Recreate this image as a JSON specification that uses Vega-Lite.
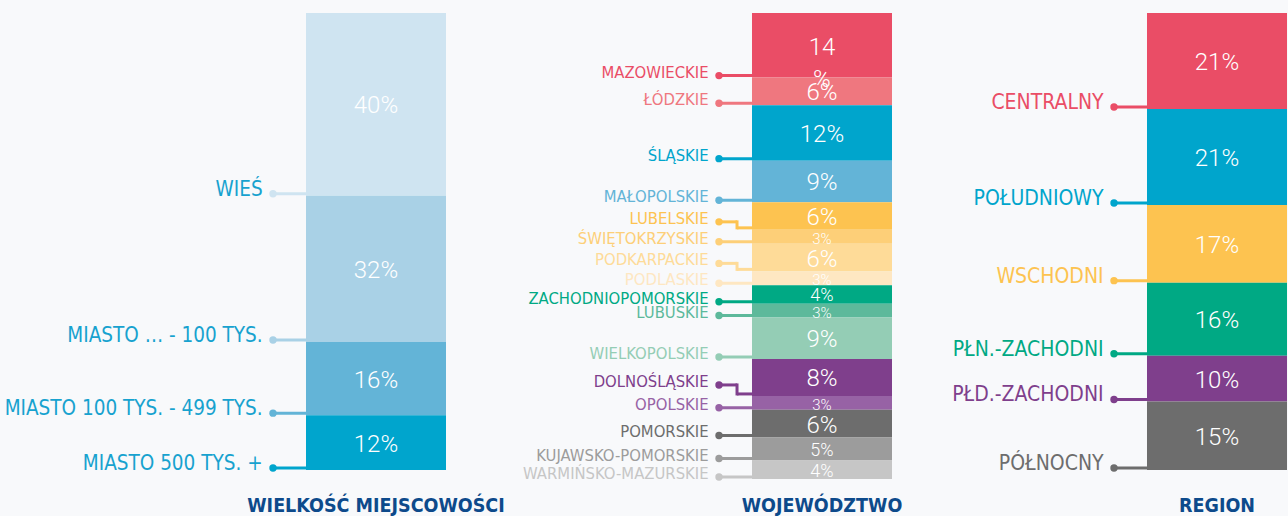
{
  "$schema": "https://vega.github.io/schema/vega-lite/v6.json",
  "background": "#f8f9fb",
  "padding": {"left": 0, "top": 13, "right": 1, "bottom": 0},
  "autosize": {"type": "pad"},
  "bounds": "flush",
  "spacing": 0,
  "config": {"view": {"stroke": null}},
  "resolve": {"scale": {"x": "independent", "y": "independent", "color": "independent", "size": "independent"}},
  "data": {"values": [
    {"chart": "size", "cat": "WIEŚ", "value": 40},
    {"chart": "size", "cat": "MIASTO … - 100 TYS.", "value": 32},
    {"chart": "size", "cat": "MIASTO 100 TYS. - 499 TYS.", "value": 16},
    {"chart": "size", "cat": "MIASTO 500 TYS. +", "value": 12},
    {"chart": "woj", "cat": "MAZOWIECKIE", "value": 14},
    {"chart": "woj", "cat": "ŁÓDZKIE", "value": 6},
    {"chart": "woj", "cat": "ŚLĄSKIE", "value": 12},
    {"chart": "woj", "cat": "MAŁOPOLSKIE", "value": 9},
    {"chart": "woj", "cat": "LUBELSKIE", "value": 6},
    {"chart": "woj", "cat": "ŚWIĘTOKRZYSKIE", "value": 3},
    {"chart": "woj", "cat": "PODKARPACKIE", "value": 6},
    {"chart": "woj", "cat": "PODLASKIE", "value": 3},
    {"chart": "woj", "cat": "ZACHODNIOPOMORSKIE", "value": 4},
    {"chart": "woj", "cat": "LUBUSKIE", "value": 3},
    {"chart": "woj", "cat": "WIELKOPOLSKIE", "value": 9},
    {"chart": "woj", "cat": "DOLNOŚLĄSKIE", "value": 8},
    {"chart": "woj", "cat": "OPOLSKIE", "value": 3},
    {"chart": "woj", "cat": "POMORSKIE", "value": 6},
    {"chart": "woj", "cat": "KUJAWSKO-POMORSKIE", "value": 5},
    {"chart": "woj", "cat": "WARMIŃSKO-MAZURSKIE", "value": 4},
    {"chart": "region", "cat": "CENTRALNY", "value": 21},
    {"chart": "region", "cat": "POŁUDNIOWY", "value": 21},
    {"chart": "region", "cat": "WSCHODNI", "value": 17},
    {"chart": "region", "cat": "PŁN.-ZACHODNI", "value": 16},
    {"chart": "region", "cat": "PŁD.-ZACHODNI", "value": 10},
    {"chart": "region", "cat": "PÓŁNOCNY", "value": 15}
  ]},
  "hconcat": [
    {
      "width": 446, "height": 457,
      "transform": [
        {"filter": "datum.chart === 'size'"},
        {"window": [{"op": "row_number", "as": "idx"}]},
        {"stack": "value", "groupby": [], "sort": [{"field": "idx", "order": "ascending"}], "as": ["y0", "y1"]},
        {"calculate": "(datum.y0 + datum.y1) / 2", "as": "ymid"},
        {"calculate": "datum.value + '%'", "as": "pct"}
      ],
      "layer": [
        {
          "mark": {"type": "rect"},
          "encoding": {
            "x": {"datum": 0, "type": "quantitative", "scale": {"domain": [-2.1857, 1], "nice": false, "zero": false}, "axis": null},
            "x2": {"datum": 1},
            "y": {"field": "y0", "type": "quantitative", "scale": {"domain": [0, 100], "reverse": true, "nice": false, "zero": false}, "axis": null},
            "y2": {"field": "y1"},
            "color": {"field": "cat", "type": "nominal", "legend": null, "scale": {
              "domain": ["WIEŚ","MIASTO … - 100 TYS.","MIASTO 100 TYS. - 499 TYS.","MIASTO 500 TYS. +","MAZOWIECKIE","ŁÓDZKIE","ŚLĄSKIE","MAŁOPOLSKIE","LUBELSKIE","ŚWIĘTOKRZYSKIE","PODKARPACKIE","PODLASKIE","ZACHODNIOPOMORSKIE","LUBUSKIE","WIELKOPOLSKIE","DOLNOŚLĄSKIE","OPOLSKIE","POMORSKIE","KUJAWSKO-POMORSKIE","WARMIŃSKO-MAZURSKIE","CENTRALNY","POŁUDNIOWY","WSCHODNI","PŁN.-ZACHODNI","PŁD.-ZACHODNI","PÓŁNOCNY"],
              "range": ["#cfe4f1","#a9d1e6","#63b4d7","#00a5cd","#ea4d66","#ef777f","#00a5cc","#63b4d7","#fdc350","#fdcf78","#fedb98","#fee7c2","#00a984","#5db99b","#94cdb5","#7f3f8c","#9762a5","#6d6d6d","#9c9c9c","#c6c6c6","#ea4d66","#00a5cc","#fdc350","#00a984","#7f3f8c","#6d6d6d"]}}
          }
        },
        {
          "mark": {"type": "text", "font": "Roboto", "fontWeight": 300, "color": "white", "align": "center", "baseline": "middle", "yOffset": 2},
          "encoding": {
            "x": {"datum": 0.5},
            "y": {"field": "ymid", "type": "quantitative"},
            "text": {"field": "pct"},
            "size": {"field": "value", "type": "quantitative", "legend": null, "scale": {"type": "threshold", "domain": [4, 6], "range": [16, 19, 24]}}
          }
        },
        {
          "mark": {"type": "rule", "strokeWidth": 3, "yOffset": -2},
          "encoding": {
            "x": {"datum": -0.2357}, "x2": {"datum": 0},
            "y": {"field": "y1", "type": "quantitative"},
            "color": {"field": "cat", "type": "nominal", "legend": null}
          }
        },
        {
          "mark": {"type": "point", "filled": true, "opacity": 1, "size": 55, "yOffset": -2},
          "encoding": {
            "x": {"datum": -0.2357},
            "y": {"field": "y1", "type": "quantitative"},
            "color": {"field": "cat", "type": "nominal", "legend": null}
          }
        },
        {
          "mark": {"type": "text", "font": "DejaVu Sans Condensed", "fontSize": 20.5, "color": "#17a2cf", "align": "right", "baseline": "alphabetic"},
          "encoding": {
            "x": {"datum": -0.31},
            "y": {"field": "y1", "type": "quantitative"},
            "text": {"field": "cat"}
          }
        },
        {
          "transform": [{"filter": "datum.idx === 1"}],
          "mark": {"type": "text", "font": "DejaVu Sans Condensed", "fontSize": 19.5, "fontWeight": "bold", "color": "#0d4a8b", "align": "center", "baseline": "alphabetic"},
          "encoding": {
            "x": {"datum": 0.5},
            "y": {"datum": 109.2},
            "text": {"value": "WIELKOŚĆ MIEJSCOWOŚCI"}
          }
        }
      ]
    },
    {
      "width": 446, "height": 466,
      "transform": [
        {"filter": "datum.chart === 'woj'"},
        {"window": [{"op": "row_number", "as": "idx"}]},
        {"stack": "value", "groupby": [], "sort": [{"field": "idx", "order": "ascending"}], "as": ["y0", "y1"]},
        {"calculate": "(datum.y0 + datum.y1) / 2", "as": "ymid"},
        {"calculate": "datum.value + '%'", "as": "pct"}
      ],
      "layer": [
        {
          "mark": {"type": "rect"},
          "encoding": {
            "x": {"datum": 0, "type": "quantitative", "scale": {"domain": [-2.1857, 1], "nice": false, "zero": false}, "axis": null},
            "x2": {"datum": 1},
            "y": {"field": "y0", "type": "quantitative", "scale": {"domain": [0, 101], "reverse": true, "nice": false, "zero": false}, "axis": null},
            "y2": {"field": "y1"},
            "color": {"field": "cat", "type": "nominal", "legend": null, "scale": {
              "domain": ["WIEŚ","MIASTO … - 100 TYS.","MIASTO 100 TYS. - 499 TYS.","MIASTO 500 TYS. +","MAZOWIECKIE","ŁÓDZKIE","ŚLĄSKIE","MAŁOPOLSKIE","LUBELSKIE","ŚWIĘTOKRZYSKIE","PODKARPACKIE","PODLASKIE","ZACHODNIOPOMORSKIE","LUBUSKIE","WIELKOPOLSKIE","DOLNOŚLĄSKIE","OPOLSKIE","POMORSKIE","KUJAWSKO-POMORSKIE","WARMIŃSKO-MAZURSKIE","CENTRALNY","POŁUDNIOWY","WSCHODNI","PŁN.-ZACHODNI","PŁD.-ZACHODNI","PÓŁNOCNY"],
              "range": ["#cfe4f1","#a9d1e6","#63b4d7","#00a5cd","#ea4d66","#ef777f","#00a5cc","#63b4d7","#fdc350","#fdcf78","#fedb98","#fee7c2","#00a984","#5db99b","#94cdb5","#7f3f8c","#9762a5","#6d6d6d","#9c9c9c","#c6c6c6","#ea4d66","#00a5cc","#fdc350","#00a984","#7f3f8c","#6d6d6d"]}}
          }
        },
        {
          "transform": [{"filter": "datum.cat !== 'MAZOWIECKIE'"}],
          "mark": {"type": "text", "font": "Roboto", "fontWeight": 300, "color": "white", "align": "center", "baseline": "middle", "yOffset": 2},
          "encoding": {
            "x": {"datum": 0.5},
            "y": {"field": "ymid", "type": "quantitative"},
            "text": {"field": "pct"},
            "size": {"field": "value", "type": "quantitative", "legend": null, "scale": {"type": "threshold", "domain": [4, 6], "range": [15, 18, 24]}}
          }
        },
        {
          "transform": [{"filter": "datum.cat === 'MAZOWIECKIE'"}, {"calculate": "datum.value + '\\n%'", "as": "pct2"}],
          "mark": {"type": "text", "font": "Roboto", "fontWeight": 300, "fontSize": 24, "lineBreak": "\n", "lineHeight": 32, "color": "white", "align": "center", "baseline": "top", "yOffset": -9},
          "encoding": {
            "x": {"datum": 0.5},
            "y": {"field": "ymid", "type": "quantitative"},
            "text": {"field": "pct2"}
          }
        },
        {
          "transform": [{"filter": "indexof(['LUBELSKIE','PODKARPACKIE','DOLNOŚLĄSKIE'], datum.cat) < 0"}],
          "mark": {"type": "rule", "strokeWidth": 3, "yOffset": -2},
          "encoding": {
            "x": {"datum": -0.2357}, "x2": {"datum": 0},
            "y": {"field": "y1", "type": "quantitative"},
            "color": {"field": "cat", "type": "nominal", "legend": null}
          }
        },
        {
          "transform": [{"filter": "indexof(['LUBELSKIE','PODKARPACKIE','DOLNOŚLĄSKIE'], datum.cat) < 0"}],
          "mark": {"type": "point", "filled": true, "opacity": 1, "size": 55, "yOffset": -2},
          "encoding": {
            "x": {"datum": -0.2357},
            "y": {"field": "y1", "type": "quantitative"},
            "color": {"field": "cat", "type": "nominal", "legend": null}
          }
        },
        {
          "transform": [{"filter": "indexof(['LUBELSKIE','PODKARPACKIE','DOLNOŚLĄSKIE'], datum.cat) < 0"}],
          "mark": {"type": "text", "font": "DejaVu Sans Condensed", "fontSize": 16.5, "align": "right", "baseline": "alphabetic"},
          "encoding": {
            "x": {"datum": -0.31},
            "y": {"field": "y1", "type": "quantitative"},
            "text": {"field": "cat"},
            "color": {"field": "cat", "type": "nominal", "legend": null}
          }
        },
        {
          "transform": [{"filter": "indexof(['LUBELSKIE','PODKARPACKIE','DOLNOŚLĄSKIE'], datum.cat) >= 0"}],
          "mark": {"type": "rule", "strokeWidth": 3, "yOffset": -2},
          "encoding": {
            "x": {"datum": -0.107}, "x2": {"datum": 0},
            "y": {"field": "y1", "type": "quantitative"},
            "color": {"field": "cat", "type": "nominal", "legend": null}
          }
        },
        {
          "transform": [{"filter": "datum.cat === 'LUBELSKIE' || datum.cat === 'PODKARPACKIE'"}],
          "mark": {"type": "rule", "strokeWidth": 3, "yOffset": -8},
          "encoding": {
            "x": {"datum": -0.2357}, "x2": {"datum": -0.107},
            "y": {"field": "y1", "type": "quantitative"},
            "color": {"field": "cat", "type": "nominal", "legend": null}
          }
        },
        {
          "transform": [{"filter": "datum.cat === 'LUBELSKIE' || datum.cat === 'PODKARPACKIE'"}],
          "mark": {"type": "rule", "strokeWidth": 3, "strokeCap": "square", "yOffset": -8, "y2Offset": -2},
          "encoding": {
            "x": {"datum": -0.107},
            "y": {"field": "y1", "type": "quantitative"}, "y2": {"field": "y1"},
            "color": {"field": "cat", "type": "nominal", "legend": null}
          }
        },
        {
          "transform": [{"filter": "datum.cat === 'LUBELSKIE' || datum.cat === 'PODKARPACKIE'"}],
          "mark": {"type": "point", "filled": true, "opacity": 1, "size": 55, "yOffset": -8},
          "encoding": {
            "x": {"datum": -0.2357},
            "y": {"field": "y1", "type": "quantitative"},
            "color": {"field": "cat", "type": "nominal", "legend": null}
          }
        },
        {
          "transform": [{"filter": "datum.cat === 'LUBELSKIE' || datum.cat === 'PODKARPACKIE'"}],
          "mark": {"type": "text", "font": "DejaVu Sans Condensed", "fontSize": 16.5, "align": "right", "baseline": "alphabetic", "yOffset": -6},
          "encoding": {
            "x": {"datum": -0.31},
            "y": {"field": "y1", "type": "quantitative"},
            "text": {"field": "cat"},
            "color": {"field": "cat", "type": "nominal", "legend": null}
          }
        },
        {
          "transform": [{"filter": "datum.cat === 'DOLNOŚLĄSKIE'"}],
          "mark": {"type": "rule", "strokeWidth": 3, "yOffset": -11},
          "encoding": {
            "x": {"datum": -0.2357}, "x2": {"datum": -0.107},
            "y": {"field": "y1", "type": "quantitative"},
            "color": {"field": "cat", "type": "nominal", "legend": null}
          }
        },
        {
          "transform": [{"filter": "datum.cat === 'DOLNOŚLĄSKIE'"}],
          "mark": {"type": "rule", "strokeWidth": 3, "strokeCap": "square", "yOffset": -11, "y2Offset": -2},
          "encoding": {
            "x": {"datum": -0.107},
            "y": {"field": "y1", "type": "quantitative"}, "y2": {"field": "y1"},
            "color": {"field": "cat", "type": "nominal", "legend": null}
          }
        },
        {
          "transform": [{"filter": "datum.cat === 'DOLNOŚLĄSKIE'"}],
          "mark": {"type": "point", "filled": true, "opacity": 1, "size": 55, "yOffset": -11},
          "encoding": {
            "x": {"datum": -0.2357},
            "y": {"field": "y1", "type": "quantitative"},
            "color": {"field": "cat", "type": "nominal", "legend": null}
          }
        },
        {
          "transform": [{"filter": "datum.cat === 'DOLNOŚLĄSKIE'"}],
          "mark": {"type": "text", "font": "DejaVu Sans Condensed", "fontSize": 16.5, "align": "right", "baseline": "alphabetic", "yOffset": -9},
          "encoding": {
            "x": {"datum": -0.31},
            "y": {"field": "y1", "type": "quantitative"},
            "text": {"field": "cat"},
            "color": {"field": "cat", "type": "nominal", "legend": null}
          }
        },
        {
          "transform": [{"filter": "datum.idx === 1"}],
          "mark": {"type": "text", "font": "DejaVu Sans Condensed", "fontSize": 19.5, "fontWeight": "bold", "color": "#0d4a8b", "align": "center", "baseline": "alphabetic"},
          "encoding": {
            "x": {"datum": 0.5},
            "y": {"datum": 108.15},
            "text": {"value": "WOJEWÓDZTWO"}
          }
        }
      ]
    },
    {
      "width": 395, "height": 457,
      "transform": [
        {"filter": "datum.chart === 'region'"},
        {"window": [{"op": "row_number", "as": "idx"}]},
        {"stack": "value", "groupby": [], "sort": [{"field": "idx", "order": "ascending"}], "as": ["y0", "y1"]},
        {"calculate": "(datum.y0 + datum.y1) / 2", "as": "ymid"},
        {"calculate": "datum.value + '%'", "as": "pct"}
      ],
      "layer": [
        {
          "mark": {"type": "rect"},
          "encoding": {
            "x": {"datum": 0, "type": "quantitative", "scale": {"domain": [-1.8214, 1], "nice": false, "zero": false}, "axis": null},
            "x2": {"datum": 1},
            "y": {"field": "y0", "type": "quantitative", "scale": {"domain": [0, 100], "reverse": true, "nice": false, "zero": false}, "axis": null},
            "y2": {"field": "y1"},
            "color": {"field": "cat", "type": "nominal", "legend": null, "scale": {
              "domain": ["WIEŚ","MIASTO … - 100 TYS.","MIASTO 100 TYS. - 499 TYS.","MIASTO 500 TYS. +","MAZOWIECKIE","ŁÓDZKIE","ŚLĄSKIE","MAŁOPOLSKIE","LUBELSKIE","ŚWIĘTOKRZYSKIE","PODKARPACKIE","PODLASKIE","ZACHODNIOPOMORSKIE","LUBUSKIE","WIELKOPOLSKIE","DOLNOŚLĄSKIE","OPOLSKIE","POMORSKIE","KUJAWSKO-POMORSKIE","WARMIŃSKO-MAZURSKIE","CENTRALNY","POŁUDNIOWY","WSCHODNI","PŁN.-ZACHODNI","PŁD.-ZACHODNI","PÓŁNOCNY"],
              "range": ["#cfe4f1","#a9d1e6","#63b4d7","#00a5cd","#ea4d66","#ef777f","#00a5cc","#63b4d7","#fdc350","#fdcf78","#fedb98","#fee7c2","#00a984","#5db99b","#94cdb5","#7f3f8c","#9762a5","#6d6d6d","#9c9c9c","#c6c6c6","#ea4d66","#00a5cc","#fdc350","#00a984","#7f3f8c","#6d6d6d"]}}
          }
        },
        {
          "mark": {"type": "text", "font": "Roboto", "fontWeight": 300, "fontSize": 24, "color": "white", "align": "center", "baseline": "middle", "yOffset": 2},
          "encoding": {
            "x": {"datum": 0.5},
            "y": {"field": "ymid", "type": "quantitative"},
            "text": {"field": "pct"}
          }
        },
        {
          "mark": {"type": "rule", "strokeWidth": 3, "yOffset": -2},
          "encoding": {
            "x": {"datum": -0.2357}, "x2": {"datum": 0},
            "y": {"field": "y1", "type": "quantitative"},
            "color": {"field": "cat", "type": "nominal", "legend": null}
          }
        },
        {
          "mark": {"type": "point", "filled": true, "opacity": 1, "size": 55, "yOffset": -2},
          "encoding": {
            "x": {"datum": -0.2357},
            "y": {"field": "y1", "type": "quantitative"},
            "color": {"field": "cat", "type": "nominal", "legend": null}
          }
        },
        {
          "mark": {"type": "text", "font": "DejaVu Sans Condensed", "fontSize": 21, "align": "right", "baseline": "alphabetic"},
          "encoding": {
            "x": {"datum": -0.31},
            "y": {"field": "y1", "type": "quantitative"},
            "text": {"field": "cat"},
            "color": {"field": "cat", "type": "nominal", "legend": null}
          }
        },
        {
          "transform": [{"filter": "datum.idx === 1"}],
          "mark": {"type": "text", "font": "DejaVu Sans Condensed", "fontSize": 19.5, "fontWeight": "bold", "color": "#0d4a8b", "align": "center", "baseline": "alphabetic"},
          "encoding": {
            "x": {"datum": 0.5},
            "y": {"datum": 109.2},
            "text": {"value": "REGION"}
          }
        }
      ]
    }
  ]
}
